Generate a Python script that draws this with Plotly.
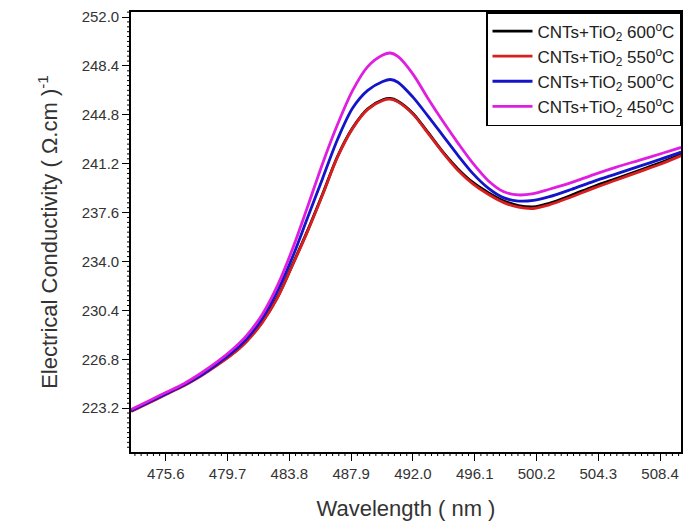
import plotly.graph_objects as go

wavelength = [473.3, 474.5, 475.6, 476.8, 477.9, 479.0, 480.0, 481.0, 482.0, 483.0,
              484.0, 485.0, 486.0, 487.0, 488.0, 489.0, 490.0, 490.5, 491.0, 492.0,
              493.0, 494.0, 495.0, 496.0, 497.0, 498.0, 499.0, 500.0, 501.0, 502.5,
              504.0, 505.5, 507.0, 508.5, 509.8]

cond_550 = [222.95, 223.6, 224.2, 224.85, 225.55, 226.35, 227.15, 228.15, 229.5, 231.3,
            233.7, 236.2, 238.9, 241.7, 243.8, 245.2, 245.85, 245.95, 245.75, 244.85,
            243.45, 242.0, 240.7, 239.7, 238.95, 238.35, 238.0, 237.9, 238.15, 238.75,
            239.4, 240.0, 240.6, 241.2, 241.8]

cond_600 = [223.0, 223.65, 224.25, 224.9, 225.6, 226.4, 227.2, 228.2, 229.55, 231.35,
            233.75, 236.25, 238.95, 241.75, 243.85, 245.25, 245.9, 246.0, 245.8, 244.9,
            243.5, 242.05, 240.8, 239.8, 239.07, 238.47, 238.12, 238.02, 238.27, 238.87,
            239.52, 240.1, 240.7, 241.3, 241.9]

cond_500 = [223.0, 223.65, 224.25, 224.9, 225.6, 226.45, 227.3, 228.35, 229.8, 231.8,
            234.3, 237.2, 240.1, 243.0, 245.3, 246.6, 247.25, 247.4, 247.2, 246.1,
            244.7, 243.25, 241.8, 240.45, 239.4, 238.7, 238.45, 238.5, 238.75, 239.3,
            239.9, 240.45, 241.0, 241.55, 242.05]

cond_450 = [223.1, 223.75, 224.35, 225.0, 225.75, 226.6, 227.5, 228.6, 230.1, 232.2,
            234.9, 238.0, 241.2, 244.1, 246.6, 248.35, 249.2, 249.35, 249.1, 247.8,
            246.0, 244.3, 242.7, 241.2, 239.95, 239.15, 238.9, 239.0, 239.3, 239.8,
            240.4, 240.95, 241.45, 241.95, 242.4]

series_names = ["CNTs+TiO<sub>2</sub> 600<sup>o</sup>C",
                "CNTs+TiO<sub>2</sub> 550<sup>o</sup>C",
                "CNTs+TiO<sub>2</sub> 500<sup>o</sup>C",
                "CNTs+TiO<sub>2</sub> 450<sup>o</sup>C"]
series_values = [cond_600, cond_550, cond_500, cond_450]
series_colors = ["#000000", "#d81e1e", "#1414c8", "#e01ee0"]

x_tick0, x_dtick = 475.6, 4.1
y_tick0, y_dtick = 223.2, 3.6
x_range = [473.29, 509.79]
y_range = [219.97, 252.37]

W, H = 688, 527
ML, MR, MT, MB = 131, 5, 12, 75
plot_w, plot_h = W - ML - MR, H - MT - MB

fig = go.Figure()
for name, vals, col in zip(series_names, series_values, series_colors):
    fig.add_trace(go.Scatter(x=wavelength, y=vals, mode="lines", name=name,
                             line=dict(color=col, width=2.8, shape="spline", smoothing=0.9)))

font_family = "Liberation Sans, Arial, sans-serif"

# minor tick marks (10 per major interval), drawn as paper-referenced shapes
minor_len = 4
shapes = []
k = -60
while True:
    v = x_tick0 + k * x_dtick / 10
    k += 1
    if v > x_range[1]:
        break
    if v < x_range[0] or (k - 1) % 10 == 0:
        continue
    xp = (v - x_range[0]) / (x_range[1] - x_range[0])
    shapes.append(dict(type="line", xref="paper", yref="paper", x0=xp, x1=xp,
                       y0=0, y1=-minor_len / plot_h, line=dict(color="#000000", width=1)))
k = -60
while True:
    v = y_tick0 + k * y_dtick / 10
    k += 1
    if v > y_range[1]:
        break
    if v < y_range[0] or (k - 1) % 10 == 0:
        continue
    yp = (v - y_range[0]) / (y_range[1] - y_range[0])
    shapes.append(dict(type="line", xref="paper", yref="paper", y0=yp, y1=yp,
                       x0=0, x1=-minor_len / plot_w, line=dict(color="#000000", width=1)))

fig.update_layout(
    width=W, height=H,
    margin=dict(l=ML, r=MR, t=MT, b=MB),
    paper_bgcolor="white", plot_bgcolor="white",
    font=dict(family=font_family, color="#222222"),
    legend=dict(x=1, y=1, xanchor="right", yanchor="top",
                bordercolor="#000000", borderwidth=1.5, bgcolor="white",
                font=dict(size=17, family=font_family, color="#222222"),
                tracegroupgap=0, itemwidth=40),
    showlegend=True,
    shapes=shapes,
)

fig.update_layout(xaxis=dict(
    range=x_range,
    tickmode="linear", tick0=x_tick0, dtick=x_dtick, tickformat=".1f",
    ticks="outside", ticklen=7, tickwidth=1.3, tickcolor="#000000",
    showline=True, linecolor="#000000", linewidth=1.6, mirror=True,
    showgrid=False, zeroline=False,
    tickfont=dict(size=15, family=font_family, color="#333333"),
    title=dict(text="Wavelength ( nm )", font=dict(size=22, family=font_family, color="#333333"), standoff=20),
))
fig.update_layout(yaxis=dict(
    range=y_range,
    tickmode="linear", tick0=y_tick0, dtick=y_dtick, tickformat=".1f",
    ticks="outside", ticklen=7, tickwidth=1.3, tickcolor="#000000",
    showline=True, linecolor="#000000", linewidth=1.6, mirror=True,
    showgrid=False, zeroline=False,
    tickfont=dict(size=15, family=font_family, color="#333333"),
    title=dict(text="Electrical Conductivity ( Ω.cm )<sup>-1</sup>", font=dict(size=22, family=font_family, color="#333333"), standoff=18),
))

fig.write_html("out.html")
